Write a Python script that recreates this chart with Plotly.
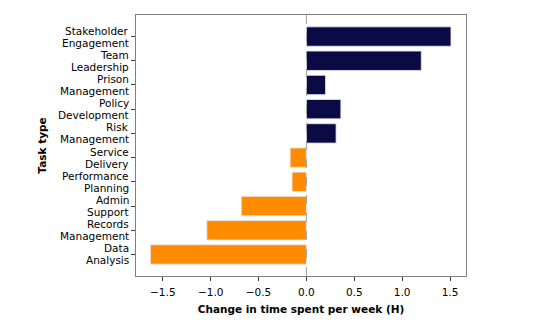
import plotly.graph_objects as go

categories = ["Stakeholder<br>Engagement", "Team<br>Leadership", "Prison<br>Management",
              "Policy<br>Development", "Risk<br>Management", "Service<br>Delivery",
              "Performance<br>Planning", "Admin<br>Support", "Records<br>Management",
              "Data<br>Analysis"]
values = [1.51, 1.20, 0.20, 0.36, 0.31, -0.17, -0.15, -0.68, -1.04, -1.63]
x_ticks = [-1.5, -1.0, -0.5, 0.0, 0.5, 1.0, 1.5]
x_tick_labels = ["−1.5", "−1.0", "−0.5", "0.0", "0.5", "1.0", "1.5"]

pos_color = "#0a0a45"
neg_color = "#ff8c00"
colors = [pos_color if v >= 0 else neg_color for v in values]

fig = go.Figure()
fig.add_trace(go.Bar(
    x=values, y=categories, orientation="h",
    marker=dict(color=colors, line=dict(color="#e8e8f0", width=0.8)),
    width=0.8,
))

fig.add_shape(type="line", xref="x", yref="paper", x0=0, x1=0, y0=0, y1=1,
              line=dict(color="#a0a0a0", width=1, dash="dash"), layer="above")

font = dict(family="DejaVu Sans", size=10.5, color="#000000")

# right-aligned two-line category labels, with matplotlib-like line spacing
for c in categories:
    lines = c.split("<br>")
    n = len(lines)
    for i, line in enumerate(lines):
        shift = (n - 1) / 2 * 12 - i * 12
        fig.add_annotation(x=0, xref="paper", y=c, yref="y", text=line, showarrow=False,
                           xanchor="right", yanchor="middle", align="right",
                           xshift=-6, yshift=shift, font=font, borderpad=0)

fig.update_layout(
    width=533, height=328,
    margin=dict(l=136, r=67, t=15, b=52),
    plot_bgcolor="white", paper_bgcolor="white",
    showlegend=False,
    font=font,
    bargap=0.2,
)
fig.update_xaxes(
    range=[-1.78, 1.667],
    tickmode="array", tickvals=x_ticks, ticktext=x_tick_labels,
    ticks="outside", ticklen=4, tickcolor="#404040",
    ticklabelstandoff=2,
    showgrid=False, zeroline=False,
    showline=True, linecolor="#808080", linewidth=1, mirror=True,
    title=dict(text="<b>Change in time spent per week (H)</b>", font=dict(family="DejaVu Sans", size=10.5), standoff=9),
    tickfont=font,
)
fig.update_yaxes(
    type="category",
    range=[9.89, -0.89],
    ticks="outside", ticklen=4, tickcolor="#404040",
    showticklabels=False,
    showgrid=False, zeroline=False,
    showline=True, linecolor="#808080", linewidth=1, mirror=True,
    title=dict(text="<b>Task type</b>", font=dict(family="DejaVu Sans", size=10.5), standoff=82),
)

fig.write_html("out.html")
